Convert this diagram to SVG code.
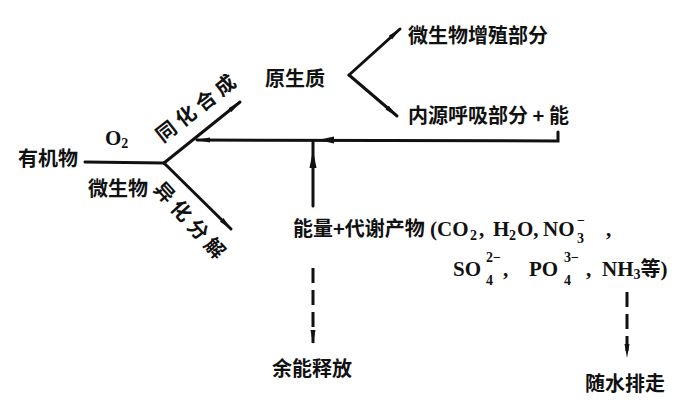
<svg xmlns="http://www.w3.org/2000/svg" width="700" height="405" viewBox="0 0 700 405">
<defs>
<style>
.zh{font-family:"Noto Sans CJK SC","Noto Sans",sans-serif;font-size:20px;font-weight:bold;fill:#111}
.fm{font-family:"Liberation Serif","Noto Sans CJK SC",serif;font-size:21px;font-weight:bold;fill:#111}
.sm{font-family:"Liberation Serif",serif;font-size:14px;font-weight:bold;fill:#111}
.ln{stroke:#111;stroke-width:3;fill:none;stroke-linecap:round}
.ds{stroke:#111;stroke-width:3;fill:none;stroke-dasharray:15 7}
.ah{fill:#111}
</style>
<marker id="arr" viewBox="0 0 14 6" refX="13" refY="3" markerWidth="14" markerHeight="6" markerUnits="userSpaceOnUse" orient="auto">
<path d="M0,0.5 L14,3 L0,5.5 z" fill="#111"/>
</marker>
</defs>
<rect width="700" height="405" fill="#fff"/>
<g id="connectors">
<line class="ln" x1="85" y1="162" x2="164" y2="163"/>
<line class="ln" x1="164" y1="163" x2="240" y2="102" marker-end="url(#arr)"/>
<line class="ln" x1="164" y1="163" x2="231" y2="229" marker-end="url(#arr)"/>
<line class="ln" x1="349" y1="75" x2="400" y2="29" marker-end="url(#arr)"/>
<line class="ln" x1="349" y1="75" x2="397" y2="116" marker-end="url(#arr)"/>
<polyline class="ln" points="558,132 558,141 197,140" marker-end="url(#arr)"/>
<path class="ah" d="M318,140 L334,136.5 L334,143.5 z"/>
<line class="ln" x1="313" y1="206" x2="313" y2="141"/>
<path class="ah" d="M313,150 L309.5,168 L316.5,168 z"/>
<line class="ds" x1="313" y1="268" x2="313" y2="343" marker-end="url(#arr)"/>
<line class="ds" x1="627" y1="292" x2="627" y2="357" stroke-dasharray="13 9" marker-end="url(#arr)"/>
</g>
<g id="n-youjiwu"><text class="zh" x="18" y="165.6">有机物</text></g>
<g id="n-o2"><text class="fm" x="105" y="145">O<tspan class="sm" dy="3">2</tspan></text></g>
<g id="n-weishengwu"><text class="zh" x="88" y="195.6">微生物</text></g>
<g id="n-tonghua"><text class="zh" transform="translate(195.5,108) rotate(-38)" x="-47.5" y="7.6" letter-spacing="5">同化合成</text></g>
<g id="n-yihua"><text class="zh" transform="translate(190,220) rotate(48)" x="-47.5" y="7.6" letter-spacing="5">异化分解</text></g>
<g id="n-yuanshengzhi"><text class="zh" x="265" y="85.6">原生质</text></g>
<g id="n-zengzhi"><text class="zh" x="408" y="42.6">微生物增殖部分</text></g>
<g id="n-neiyuan"><text class="zh" x="408" y="122.6">内源呼吸部分 + 能</text></g>
<g id="n-products">
<text class="zh" x="293" y="235.6">能量+代谢产物</text>
<text class="fm" x="430" y="236">(</text>
<text class="fm" x="437" y="236">CO</text>
<text class="sm" x="470" y="240">2</text>
<text class="fm" x="479" y="236">,</text>
<text class="fm" x="493" y="236">H</text>
<text class="sm" x="509" y="240">2</text>
<text class="fm" x="517" y="236">O,</text>
<text class="fm" x="543" y="236">NO</text>
<text class="sm" x="577" y="243">3</text>
<text class="sm" x="577" y="225">−</text>
<text class="fm" x="606" y="236">,</text>
<text class="fm" x="453" y="276">SO</text>
<text class="sm" x="486" y="262">2−</text>
<text class="sm" x="486" y="285">4</text>
<text class="fm" x="503" y="276">,</text>
<text class="fm" x="529" y="276">PO</text>
<text class="sm" x="564" y="262">3−</text>
<text class="sm" x="564" y="285">4</text>
<text class="fm" x="586" y="276">,</text>
<text class="fm" x="602" y="276">NH<tspan class="sm" dy="3">3</tspan><tspan class="zh" dy="-3">等</tspan>)</text>
</g>
<g id="n-yuneng"><text class="zh" x="272" y="375.6">余能释放</text></g>
<g id="n-suishui"><text class="zh" x="585" y="390.6">随水排走</text></g>
</svg>
